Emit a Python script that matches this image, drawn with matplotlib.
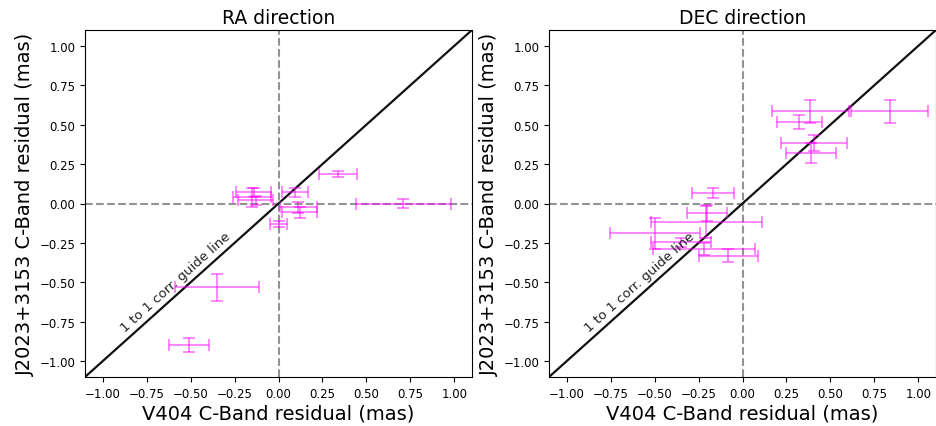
import matplotlib
matplotlib.use("Agg")
import matplotlib.pyplot as plt
import numpy as np

# RA direction data
ra_x = [0.34, 0.71, -0.14, -0.15, -0.13, 0.094, 0.113, 0.12, 0.0, -0.35, -0.507]
ra_y = [0.187, 0.0, 0.07, 0.04, 0.02, 0.071, -0.024, -0.056, -0.13, -0.53, -0.897]
ra_xerr = [0.109, 0.27, 0.10, 0.11, 0.10, 0.076, 0.104, 0.10, 0.047, 0.24, 0.113]
ra_yerr = [0.02, 0.03, 0.03, 0.06, 0.03, 0.03, 0.035, 0.035, 0.02, 0.085, 0.044]

# DEC direction data
dec_x = [0.385, 0.836, 0.324, 0.406, 0.39, -0.169, -0.20, -0.205, -0.50, -0.35, -0.22, -0.08]
dec_y = [0.585, 0.585, 0.515, 0.382, 0.318, 0.067, -0.062, -0.119, -0.189, -0.246, -0.289, -0.33]
dec_xerr = [0.22, 0.22, 0.129, 0.187, 0.142, 0.118, 0.114, 0.316, 0.256, 0.17, 0.29, 0.166]
dec_yerr = [0.074, 0.072, 0.045, 0.05, 0.063, 0.034, 0.05, 0.10, 0.10, 0.03, 0.04, 0.042]

titles = ["RA direction", "DEC direction"]
xlabel = "V404 C-Band residual (mas)"
ylabel = "J2023+3153 C-Band residual (mas)"
guide_text = "1 to 1 corr. guide line"
lim = 1.1

W, H = 936, 427
fig = plt.figure(figsize=(W / 100, H / 100), dpi=100)
positions = [[85 / W, (H - 378) / H, 387 / W, 347 / H],
             [549 / W, (H - 378) / H, 387 / W, 347 / H]]

datasets = [(ra_x, ra_y, ra_xerr, ra_yerr), (dec_x, dec_y, dec_xerr, dec_yerr)]

for pos, title, (x, y, xe, ye) in zip(positions, titles, datasets):
    ax = fig.add_axes(pos)
    ax.axhline(0, color="gray", ls="--", lw=1.5, alpha=0.85, zorder=1)
    ax.axvline(0, color="gray", ls="--", lw=1.5, alpha=0.85, zorder=1)
    ax.plot([-lim, lim], [-lim, lim], color="#111111", lw=1.6, zorder=2)
    ax.errorbar(x, y, xerr=xe, yerr=ye, fmt="none", ecolor="magenta",
                elinewidth=1.2, capsize=4, capthick=1.2, alpha=0.55, zorder=3)
    ax.text(-0.86, -0.83, guide_text, rotation=45, rotation_mode="anchor",
            transform_rotates_text=True, ha="left", va="bottom",
            fontsize=9.5, color="#222222")
    ax.set_xlim(-lim, lim)
    ax.set_ylim(-lim, lim)
    ticks = np.arange(-1.0, 1.01, 0.25)
    ax.set_xticks(ticks)
    ax.set_yticks(ticks)
    ax.tick_params(labelsize=8.5)
    ax.set_title(title, fontsize=13.5, pad=5)
    ax.set_xlabel(xlabel, fontsize=14, labelpad=3)
    ax.set_ylabel(ylabel, fontsize=14, labelpad=3)

fig.savefig("out.png", dpi=100)
